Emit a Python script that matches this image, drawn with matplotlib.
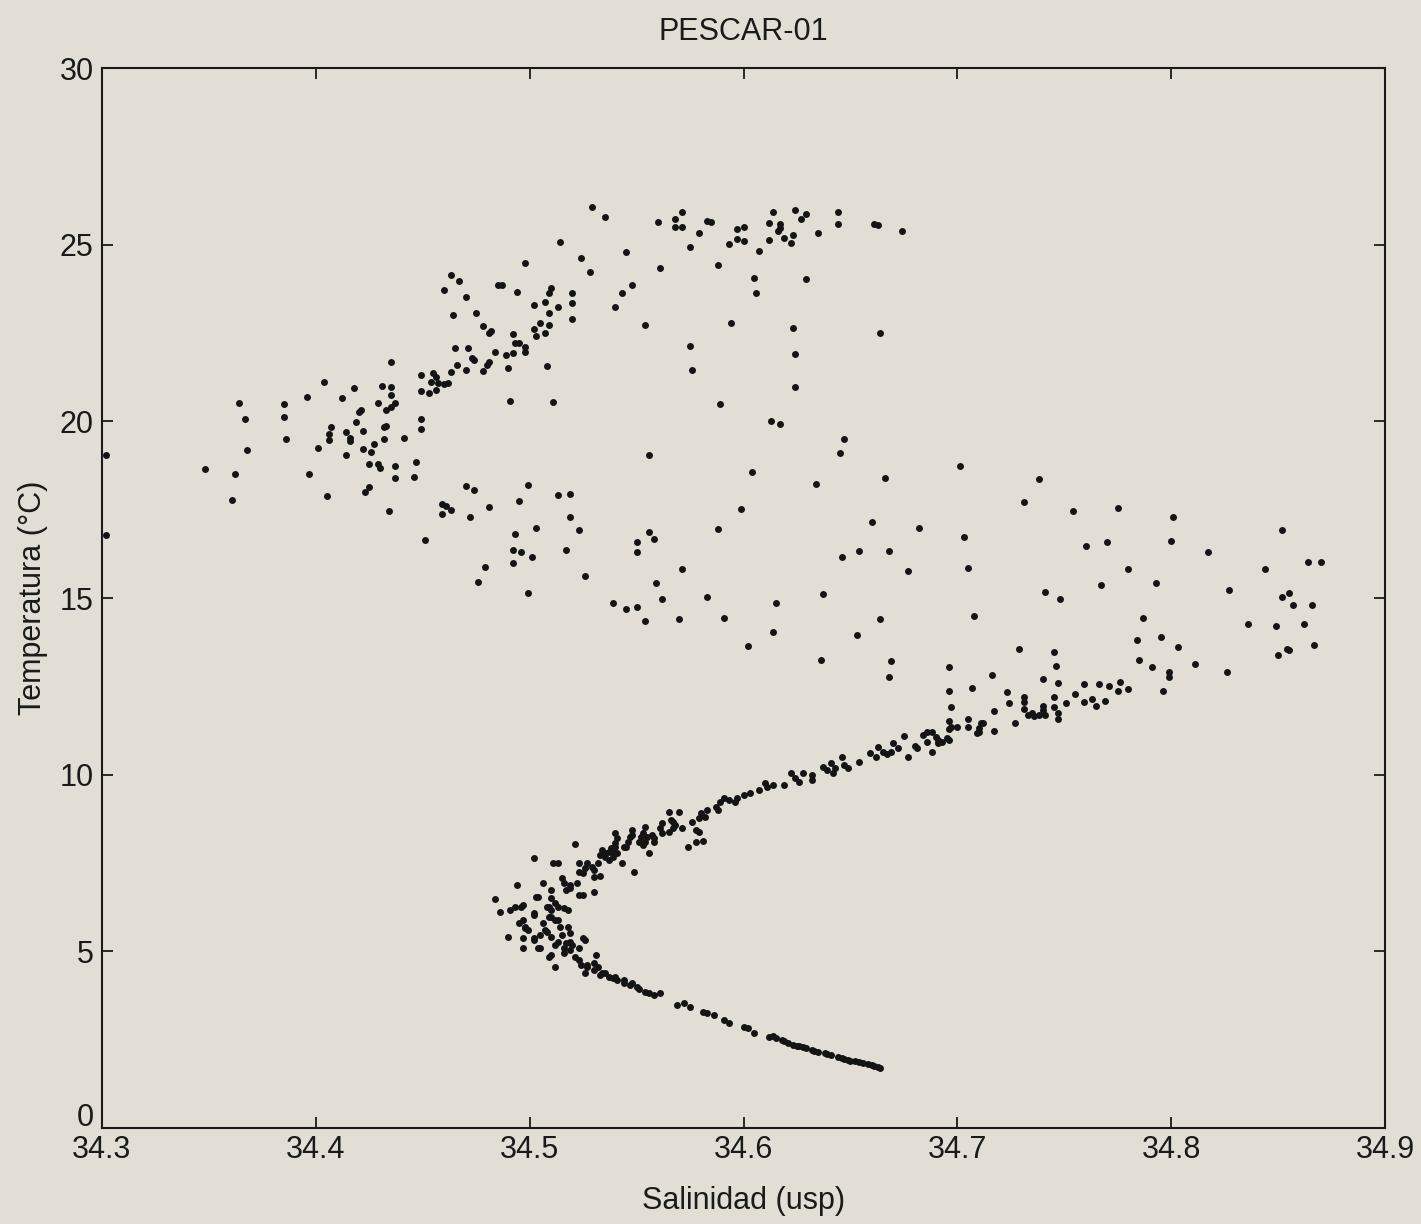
import matplotlib
matplotlib.use("Agg")
import matplotlib.pyplot as plt
import matplotlib.transforms as mtransforms

# ---- data (Salinidad, Temperatura) ----
warm_S = [34.302, 34.302, 34.348, 34.361, 34.364, 34.367, 34.368, 34.362, 34.385, 34.385,
          34.386, 34.396, 34.397, 34.401, 34.404, 34.405, 34.406, 34.406, 34.407, 34.412,
          34.414, 34.414, 34.416, 34.416, 34.418, 34.419, 34.420, 34.421, 34.422, 34.422,
          34.425, 34.425, 34.423, 34.426, 34.427, 34.429, 34.429, 34.430, 34.431, 34.432,
          34.432, 34.433, 34.433, 34.434, 34.435, 34.435, 34.435, 34.437, 34.435, 34.437,
          34.437, 34.441, 34.446, 34.447, 34.449, 34.449, 34.449, 34.449, 34.451, 34.453,
          34.454, 34.455, 34.456, 34.456, 34.457, 34.460, 34.462, 34.459, 34.461, 34.463,
          34.459, 34.460, 34.463, 34.463, 34.464, 34.465, 34.466, 34.467, 34.470, 34.470,
          34.470, 34.471, 34.473, 34.474, 34.472, 34.474, 34.475, 34.476, 34.478, 34.478,
          34.479, 34.480, 34.481, 34.481, 34.481, 34.482, 34.484, 34.485, 34.487, 34.489,
          34.490, 34.491, 34.492, 34.492, 34.493, 34.494, 34.495, 34.498, 34.498, 34.492,
          34.492, 34.493, 34.495, 34.496, 34.498, 34.499, 34.499]
warm_T = [19.05, 16.78, 18.65, 17.78, 20.52, 20.07, 19.19, 18.51, 20.49, 20.12,
          19.50, 20.69, 18.51, 19.25, 21.12, 17.89, 19.64, 19.47, 19.84, 20.66,
          19.05, 19.70, 19.53, 19.45, 20.95, 19.98, 20.27, 20.32, 19.73, 19.22,
          18.79, 18.14, 18.00, 19.13, 19.36, 20.52, 18.79, 18.68, 21.00, 19.50,
          19.84, 20.32, 19.87, 17.46, 21.68, 20.97, 20.75, 20.52, 20.41, 18.74,
          18.40, 19.53, 18.43, 18.85, 21.31, 20.86, 20.07, 19.79, 16.64, 20.80,
          21.12, 21.37, 20.89, 21.26, 21.09, 21.06, 21.09, 17.66, 17.61, 17.49,
          17.38, 23.72, 24.14, 21.40, 23.01, 22.08, 21.60, 23.97, 21.46, 23.52,
          18.17, 22.08, 21.79, 18.06, 17.29, 21.74, 23.07, 15.45, 22.70, 21.43,
          15.88, 21.60, 22.50, 21.68, 17.58, 22.56, 21.96, 23.86, 23.86, 21.88,
          21.51, 20.58, 22.47, 21.94, 22.22, 23.66, 22.22, 22.11, 21.96, 16.36,
          15.99, 16.81, 17.75, 16.30, 24.48, 18.20, 15.14]

upper_S = [34.529, 34.535, 34.571, 34.568, 34.568, 34.571, 34.560, 34.583, 34.585, 34.579,
           34.575, 34.593, 34.597, 34.600, 34.597, 34.600, 34.607, 34.614, 34.624, 34.629,
           34.627, 34.612, 34.617, 34.616, 34.617, 34.612, 34.619, 34.623, 34.622, 34.635,
           34.644, 34.644, 34.661, 34.663, 34.674, 34.514, 34.524, 34.528, 34.545, 34.561,
           34.588, 34.605, 34.606, 34.629, 34.548, 34.543, 34.540, 34.510, 34.509, 34.520,
           34.520, 34.507, 34.502, 34.513, 34.509, 34.520, 34.505, 34.509, 34.502, 34.503,
           34.507, 34.508, 34.554, 34.594, 34.623, 34.624, 34.624, 34.664, 34.575, 34.576,
           34.589, 34.613, 34.617, 34.511, 34.647, 34.645, 34.556, 34.604, 34.634, 34.666,
           34.599, 34.588, 34.660, 34.682, 34.513, 34.519, 34.519, 34.523, 34.503, 34.501,
           34.517, 34.526, 34.556, 34.558, 34.550, 34.550, 34.571, 34.559, 34.562, 34.539,
           34.545, 34.550, 34.554, 34.570, 34.583, 34.591, 34.602, 34.615, 34.614, 34.637,
           34.646, 34.654, 34.668, 34.677, 34.664, 34.653, 34.636, 34.669, 34.668]
upper_T = [26.07, 25.79, 25.93, 25.73, 25.50, 25.50, 25.64, 25.67, 25.64, 25.33,
           24.94, 25.02, 25.45, 25.50, 25.16, 25.11, 24.82, 25.93, 25.98, 25.87,
           25.73, 25.62, 25.59, 25.39, 25.47, 25.14, 25.19, 25.28, 25.05, 25.33,
           25.93, 25.59, 25.59, 25.56, 25.39, 25.08, 24.63, 24.23, 24.80, 24.34,
           24.43, 24.06, 23.63, 24.03, 23.86, 23.63, 23.24, 23.78, 23.63, 23.63,
           23.35, 23.38, 23.29, 23.24, 23.07, 22.90, 22.79, 22.73, 22.62, 22.42,
           22.50, 21.57, 22.73, 22.79, 22.64, 21.91, 20.97, 22.50, 22.13, 21.46,
           20.49, 20.01, 19.93, 20.55, 19.50, 19.11, 19.05, 18.57, 18.23, 18.40,
           17.52, 16.95, 17.15, 16.98, 17.92, 17.95, 17.29, 16.93, 16.98, 16.16,
           16.36, 15.62, 16.87, 16.67, 16.59, 16.30, 15.82, 15.43, 14.97, 14.86,
           14.69, 14.75, 14.35, 14.41, 15.03, 14.44, 13.64, 14.86, 14.04, 15.11,
           16.16, 16.33, 16.33, 15.77, 14.41, 13.95, 13.25, 13.22, 12.77]

mid_S = [34.701, 34.738, 34.731, 34.754, 34.775, 34.801, 34.800, 34.703, 34.705, 34.760,
         34.770, 34.780, 34.767, 34.793, 34.817, 34.852, 34.844, 34.864, 34.870, 34.827,
         34.852, 34.855, 34.857, 34.866, 34.836, 34.849, 34.862, 34.850, 34.854, 34.855,
         34.867, 34.741, 34.748, 34.708, 34.787, 34.784, 34.795, 34.803, 34.785, 34.791,
         34.811, 34.826, 34.799, 34.799, 34.796, 34.729, 34.745, 34.746, 34.696, 34.716,
         34.740, 34.747, 34.759, 34.766, 34.771, 34.776, 34.775, 34.780, 34.755, 34.759,
         34.763, 34.765, 34.769, 34.751, 34.745, 34.745, 34.747, 34.747, 34.740, 34.740,
         34.741, 34.738, 34.735, 34.733, 34.736, 34.731, 34.731, 34.731, 34.723, 34.724,
         34.707, 34.696, 34.697, 34.717, 34.727, 34.696, 34.696, 34.700, 34.705, 34.705,
         34.711, 34.712, 34.710, 34.710, 34.709, 34.717, 34.686, 34.688, 34.684, 34.690,
         34.691, 34.693, 34.696, 34.691, 34.686, 34.688, 34.681, 34.680, 34.675, 34.670,
         34.672, 34.669, 34.667, 34.665, 34.677, 34.695, 34.697]
mid_T = [18.74, 18.37, 17.72, 17.46, 17.55, 17.29, 16.61, 16.73, 15.85, 16.47,
         16.59, 15.82, 15.37, 15.43, 16.30, 16.93, 15.82, 16.02, 16.02, 15.23,
         15.03, 15.14, 14.80, 14.80, 14.27, 14.21, 14.27, 13.39, 13.56, 13.53,
         13.67, 15.17, 14.97, 14.49, 14.44, 13.81, 13.90, 13.61, 13.25, 13.05,
         13.13, 12.91, 12.91, 12.77, 12.37, 13.56, 13.47, 13.08, 13.05, 12.82,
         12.71, 12.60, 12.57, 12.57, 12.51, 12.62, 12.37, 12.43, 12.28, 12.06,
         12.14, 11.94, 12.09, 12.03, 12.20, 11.92, 11.75, 11.58, 11.94, 11.83,
         11.69, 11.69, 11.75, 11.69, 11.66, 12.20, 12.06, 11.86, 12.34, 12.03,
         12.45, 12.37, 11.92, 11.80, 11.46, 11.52, 11.29, 11.35, 11.58, 11.35,
         11.46, 11.46, 11.32, 11.21, 11.18, 11.24, 11.21, 11.21, 11.12, 11.07,
         10.98, 10.93, 10.98, 10.90, 10.93, 10.64, 10.76, 10.81, 11.10, 10.90,
         10.76, 10.64, 10.59, 10.64, 10.50, 11.04, 11.35]

curve_S = [34.610, 34.611, 34.614, 34.619, 34.622, 34.624, 34.626, 34.628, 34.632, 34.632,
           34.637, 34.639, 34.641, 34.642, 34.643, 34.646, 34.647, 34.649, 34.654, 34.659,
           34.662, 34.663, 34.607, 34.603, 34.600, 34.597, 34.596, 34.593, 34.591, 34.589,
           34.587, 34.588, 34.583, 34.582, 34.580, 34.579, 34.576, 34.578, 34.579, 34.578,
           34.581, 34.574, 34.570, 34.571, 34.568, 34.567, 34.566, 34.565, 34.567, 34.565,
           34.562, 34.561, 34.562, 34.558, 34.557, 34.558, 34.556, 34.553, 34.552, 34.554,
           34.551, 34.553, 34.548, 34.548, 34.547, 34.546, 34.545, 34.540, 34.541, 34.540,
           34.538, 34.537, 34.535, 34.539, 34.540, 34.554, 34.555, 34.549, 34.544, 34.543,
           34.541, 34.539, 34.537, 34.535, 34.534, 34.533, 34.532, 34.530, 34.529, 34.527,
           34.530, 34.533, 34.526, 34.525, 34.523, 34.523, 34.521, 34.513, 34.511, 34.515,
           34.516, 34.517, 34.519, 34.519, 34.522, 34.523, 34.525, 34.530, 34.506, 34.510,
           34.510, 34.503, 34.494, 34.502, 34.509, 34.510, 34.512, 34.516, 34.518, 34.484,
           34.486, 34.491, 34.493, 34.497, 34.497, 34.498, 34.495, 34.502, 34.506, 34.508,
           34.510, 34.513, 34.514, 34.515, 34.490, 34.497, 34.502, 34.505, 34.507, 34.510,
           34.513, 34.516, 34.517, 34.497, 34.504, 34.510, 34.512, 34.516, 34.519, 34.520,
           34.523, 34.525, 34.521, 34.523, 34.524, 34.526, 34.531, 34.527, 34.530, 34.533,
           34.535, 34.537, 34.539, 34.541, 34.544, 34.547, 34.550, 34.496, 34.502, 34.504,
           34.508, 34.513, 34.498, 34.499, 34.502, 34.505, 34.509, 34.512, 34.518, 34.519,
           34.509, 34.512, 34.519, 34.526, 34.527, 34.530, 34.532, 34.534, 34.540, 34.544,
           34.548, 34.554, 34.556, 34.558, 34.561, 34.551, 34.569, 34.572, 34.575, 34.581,
           34.583, 34.586, 34.591, 34.593, 34.600, 34.602, 34.605, 34.612, 34.615, 34.618,
           34.621, 34.623, 34.626, 34.629, 34.632, 34.635, 34.638, 34.641, 34.644, 34.647,
           34.650, 34.654, 34.656, 34.660, 34.663, 34.664, 34.614, 34.619, 34.625, 34.628,
           34.633, 34.639, 34.646, 34.649, 34.652, 34.658, 34.661]
curve_T = [9.77, 9.65, 9.71, 9.71, 10.05, 9.91, 9.79, 10.05, 9.99, 9.85,
           10.22, 10.13, 10.33, 10.05, 10.19, 10.50, 10.27, 10.19, 10.36, 10.61,
           10.50, 10.78, 9.57, 9.48, 9.43, 9.34, 9.23, 9.28, 9.34, 9.23,
           9.09, 9.00, 9.00, 8.80, 8.92, 8.77, 8.66, 8.43, 8.38, 8.10,
           8.12, 7.95, 8.94, 8.49, 8.58, 8.66, 8.72, 8.94, 8.49, 8.38,
           8.63, 8.49, 8.35, 8.21, 8.29, 8.10, 7.78, 8.35, 8.24, 8.10,
           8.10, 8.01, 8.43, 8.29, 8.24, 8.10, 7.95, 8.35, 8.21, 8.07,
           7.93, 7.81, 7.67, 7.81, 7.95, 8.52, 8.24, 7.25, 7.95, 7.50,
           7.78, 7.67, 7.59, 7.78, 7.87, 7.73, 7.50, 7.30, 7.39, 7.50,
           7.10, 7.13, 7.36, 7.22, 7.50, 7.25, 8.04, 7.50, 7.50, 7.08,
           6.93, 6.74, 6.79, 6.88, 6.93, 6.60, 6.60, 6.68, 6.93, 6.74,
           6.51, 6.54, 6.88, 7.64, 6.26, 6.17, 6.37, 6.23, 6.17, 6.48,
           6.11, 6.17, 6.26, 6.31, 5.89, 5.66, 5.80, 6.03, 5.80, 5.55,
           5.97, 5.89, 5.69, 5.46, 5.41, 5.38, 5.38, 5.46, 5.60, 5.41,
           5.26, 5.09, 5.24, 5.09, 5.09, 4.90, 4.56, 4.95, 5.04, 5.18,
           5.09, 5.38, 4.84, 4.76, 4.61, 4.39, 4.90, 4.56, 4.47, 4.33,
           4.39, 4.27, 4.25, 4.19, 4.10, 4.05, 3.99, 6.26, 6.09, 6.54,
           6.26, 6.26, 5.69, 5.60, 5.32, 5.09, 5.97, 5.89, 5.69, 5.52,
           4.84, 5.18, 5.26, 5.32, 4.61, 4.67, 4.56, 4.39, 4.27, 4.19,
           4.10, 3.85, 3.82, 3.76, 3.82, 3.93, 3.48, 3.54, 3.42, 3.28,
           3.25, 3.20, 3.06, 2.97, 2.86, 2.83, 2.69, 2.58, 2.55, 2.49,
           2.41, 2.35, 2.32, 2.26, 2.21, 2.15, 2.12, 2.07, 2.01, 1.95,
           1.90, 1.87, 1.84, 1.78, 1.73, 1.70, 2.60, 2.46, 2.32, 2.29,
           2.18, 2.09, 1.98, 1.92, 1.90, 1.81, 1.75]

x_ticks = [34.3, 34.4, 34.5, 34.6, 34.7, 34.8, 34.9]
y_ticks = [0, 5, 10, 15, 20, 25, 30]
title = "PESCAR-01"
x_label = "Salinidad (usp)"
y_label = "Temperatura (°C)"

# ---- figure ----
bg = "#e2ded6"
ink = "#1a1a1a"
plt.rcParams["font.family"] = ["Liberation Sans", "DejaVu Sans"]
fig = plt.figure(figsize=(14.21, 12.24), dpi=100, facecolor=bg)
ax = fig.add_axes([0.0718, 0.0784, 0.9029, 0.866])
ax.set_facecolor(bg)

for S, T in [(warm_S, warm_T), (upper_S, upper_T), (mid_S, mid_T), (curve_S, curve_T)]:
    ax.plot(S, T, linestyle="none", marker="o", markersize=5.0,
            markerfacecolor="#141414", markeredgecolor="#141414", markeredgewidth=0)

ax.set_xlim(34.3, 34.9)
ax.set_ylim(0, 30)
ax.set_xticks(x_ticks)
ax.set_xticklabels([f"{v:.1f}" for v in x_ticks])
ax.set_yticks(y_ticks)
ax.set_yticklabels([str(v) for v in y_ticks])
ax.tick_params(direction="in", length=8, width=1.3, top=True, right=True,
               labelsize=22, colors=ink, pad=6)
ax.tick_params(axis="x", pad=5)
for sp in ax.spines.values():
    sp.set_linewidth(1.5)
    sp.set_color(ink)

# lift the "0" label slightly, as in the reference
lbl0 = ax.get_yticklabels()[0]
lbl0.set_transform(lbl0.get_transform() + mtransforms.ScaledTranslation(0, 14 / 100, fig.dpi_scale_trans))

ax.set_title(title, fontsize=22, pad=20, color=ink)
ax.set_xlabel(x_label, fontsize=22, labelpad=15, color=ink)
ax.set_ylabel(y_label, fontsize=22, labelpad=8, color=ink)

fig.savefig("out.png", dpi=100, facecolor=bg)
